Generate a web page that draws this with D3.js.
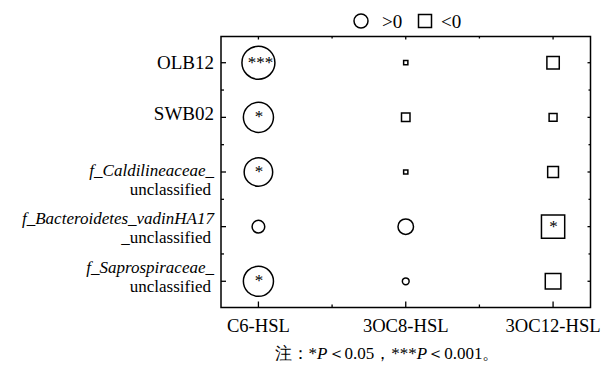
<!DOCTYPE html>
<html>
<head>
<meta charset="utf-8">
<script src="https://cdn.jsdelivr.net/npm/d3@7"></script>
<style>
  html, body { margin: 0; padding: 0; background: #fff; }
  svg { display: block; }
  text { font-family: "Liberation Serif", "Times New Roman", serif; fill: #000; }
</style>
</head>
<body>
<svg id="chart" width="601" height="369"></svg>
<script>
// AHL signal molecules (columns)
const signals = ["C6-HSL", "3OC8-HSL", "3OC12-HSL"];

// Bacterial taxa (rows): italic first line and plain second line
const taxa = ["OLB12", "SWB02", "Caldilineaceae", "Bacteroidetes_vadinHA17", "Saprospiraceae"];
const taxonItalic = ["", "", "f_Caldilineaceae_", "f_Bacteroidetes_vadinHA17", "f_Saprospiraceae_"];
const taxonPlain = ["OLB12", "SWB02", "unclassified", "_unclassified", "unclassified"];

// Correlation coefficients per signal, in taxa order
const corrC6 = [0.95, 0.79, 0.71, 0.14, 0.79];
const corr3OC8 = [-0.02, -0.08, -0.02, 0.21, 0.04];
const corr3OC12 = [-0.17, -0.07, -0.13, -0.60, -0.27];

// Significance marks per signal, in taxa order
const sigC6 = ["***", "*", "*", "", "*"];
const sig3OC8 = ["", "", "", "", ""];
const sig3OC12 = ["", "", "", "*", ""];

// Legend entries and footnote pieces
const legendLabels = [">0", "<0"];
const noteText = ["注：*", "P", "＜0.05，***", "P", "＜0.001。"];

const seriesValues = [corrC6, corr3OC8, corr3OC12];
const seriesSig = [sigC6, sig3OC8, sig3OC12];

const cells = [];
signals.forEach((s, j) => {
  taxa.forEach((t, i) => {
    cells.push({ signal: s, taxon: t, value: seriesValues[j][i], sig: seriesSig[j][i] });
  });
});

const svg = d3.select("#chart");
const box = { left: 221, right: 590.5, top: 36.5, bottom: 307.5 };

const x = d3.scalePoint().domain(signals).range([box.left, box.right]).padding(0.254);
const y = d3.scalePoint().domain(taxa).range([box.top, box.bottom]).padding(0.48);

// symbol area proportional to |r|
const area = d3.scaleLinear().domain([0, 1]).range([0, 900]);

// midpoints between categories for minor ticks
function minors(scale) {
  const d = scale.domain().map(scale);
  const out = [];
  for (let k = 0; k < d.length - 1; k++) out.push((d[k] + d[k + 1]) / 2);
  return out;
}

svg.append("rect")
  .attr("x", box.left).attr("y", box.top)
  .attr("width", box.right - box.left).attr("height", box.bottom - box.top)
  .attr("fill", "none").attr("stroke", "#000").attr("stroke-width", 1.5);

const tickG = svg.append("g").attr("stroke", "#000").attr("stroke-width", 1.3);
// bottom / top ticks (inward)
signals.forEach(s => {
  const xp = x(s);
  tickG.append("line").attr("x1", xp).attr("x2", xp).attr("y1", box.bottom).attr("y2", box.bottom - 6);
  tickG.append("line").attr("x1", xp).attr("x2", xp).attr("y1", box.top).attr("y2", box.top + 3);
});
minors(x).forEach(xp => {
  tickG.append("line").attr("x1", xp).attr("x2", xp).attr("y1", box.bottom).attr("y2", box.bottom - 3);
  tickG.append("line").attr("x1", xp).attr("x2", xp).attr("y1", box.top).attr("y2", box.top + 2);
});
// left / right ticks (inward)
taxa.forEach(t => {
  const yp = y(t);
  tickG.append("line").attr("x1", box.left).attr("x2", box.left + 5).attr("y1", yp).attr("y2", yp);
  tickG.append("line").attr("x1", box.right).attr("x2", box.right - 3).attr("y1", yp).attr("y2", yp);
});
minors(y).forEach(yp => {
  tickG.append("line").attr("x1", box.left).attr("x2", box.left + 3).attr("y1", yp).attr("y2", yp);
  tickG.append("line").attr("x1", box.right).attr("x2", box.right - 2).attr("y1", yp).attr("y2", yp);
});

// x tick labels
svg.append("g").selectAll("text").data(signals).join("text")
  .attr("x", d => x(d)).attr("y", 332)
  .attr("text-anchor", "middle").attr("font-size", 18.6)
  .text(d => d);

// y tick labels; two-line labels sit a little off their tick
const labelShift = [6, 3, 4, -3, -8];
const yl = svg.append("g").selectAll("g").data(taxa).join("g")
  .attr("transform", (d, i) => `translate(${box.left - 7},${y(d) + labelShift[i]})`);
yl.each(function (d, i) {
  const g = d3.select(this);
  if (taxonItalic[i]) {
    g.append("text").attr("text-anchor", "end").attr("font-size", 17)
      .attr("font-style", "italic").text(taxonItalic[i]);
    g.append("text").attr("text-anchor", "end").attr("y", 19).attr("font-size", 17)
      .attr("dx", -3).text(taxonPlain[i]);
  } else {
    g.append("text").attr("text-anchor", "end").attr("font-size", 19)
      .text(taxonPlain[i]);
  }
});

// correlation marks: circle for positive, square for negative
const marks = svg.append("g");
marks.selectAll("path").data(cells).join("path")
  .attr("transform", d => `translate(${x(d.signal)},${y(d.taxon)})`)
  .attr("d", d => d3.symbol().type(d.value > 0 ? d3.symbolCircle : d3.symbolSquare).size(area(Math.abs(d.value)))())
  .attr("fill", "none").attr("stroke", "#000").attr("stroke-width", 1.5);

marks.selectAll("text").data(cells.filter(d => d.sig)).join("text")
  .attr("x", d => x(d.signal) + (d.sig.length > 1 ? 2 : 0.5))
  .attr("y", d => y(d.taxon) + 5)
  .attr("text-anchor", "middle").attr("font-size", 17)
  .text(d => d.sig);

// legend
const lg = svg.append("g");
lg.append("path").attr("transform", "translate(361,21)")
  .attr("d", d3.symbol().type(d3.symbolCircle).size(Math.PI * 49)())
  .attr("fill", "none").attr("stroke", "#000").attr("stroke-width", 1.5);
lg.append("text").attr("x", 382).attr("y", 28).attr("font-size", 19).text(legendLabels[0]);
lg.append("path").attr("transform", "translate(425,21)")
  .attr("d", d3.symbol().type(d3.symbolSquare).size(169)())
  .attr("fill", "none").attr("stroke", "#000").attr("stroke-width", 1.5);
lg.append("text").attr("x", 441).attr("y", 28).attr("font-size", 19).text(legendLabels[1]);

// footnote
const note = svg.append("text").attr("x", 387).attr("y", 359)
  .attr("text-anchor", "middle").attr("font-size", 17);
noteText.forEach(t => {
  note.append("tspan")
    .attr("font-style", t === "P" ? "italic" : null)
    .text(t);
});
</script>
</body>
</html>
